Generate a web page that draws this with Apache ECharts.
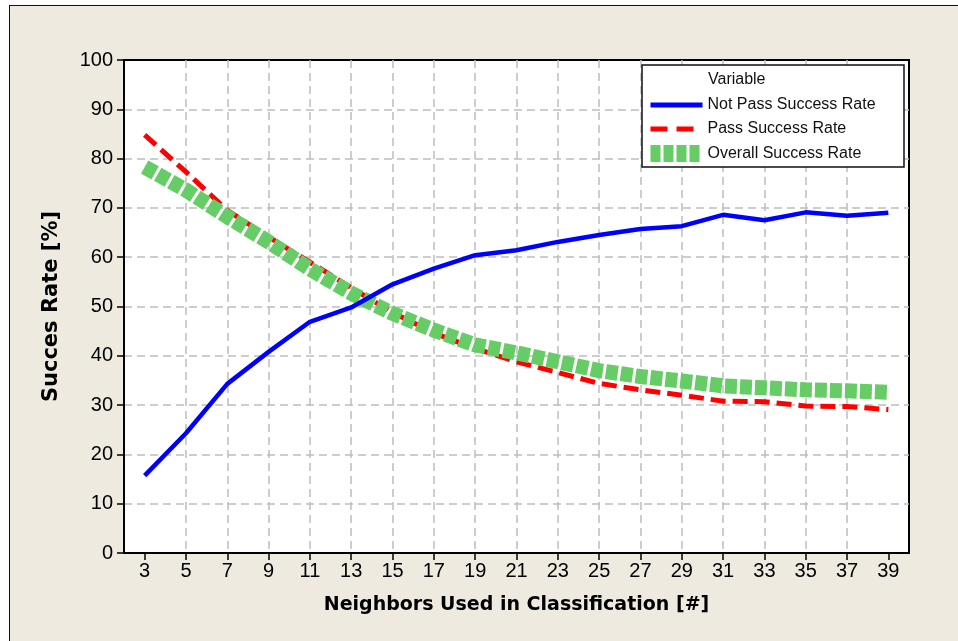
<!DOCTYPE html>
<html>
<head>
<meta charset="utf-8">
<script src="https://cdn.jsdelivr.net/npm/echarts@6/dist/echarts.min.js"></script>
<style>
html,body{margin:0;padding:0;width:958px;height:641px;overflow:hidden;background:#ffffff;}
#frame{position:absolute;left:9px;top:5px;width:1000px;height:700px;background:#EEEAE0;border-left:1.5px solid #111;border-top:1.5px solid #111;box-sizing:border-box;}
#chart{position:absolute;left:0;top:0;width:958px;height:641px;}
</style>
</head>
<body>
<div id="frame"></div>
<div id="chart"></div>
<script>
// Data
const neighbors = [3,5,7,9,11,13,15,17,19,21,23,25,27,29,31,33,35,37,39];
const notPassRate = [15.7,24.3,34.3,40.8,46.9,49.8,54.5,57.7,60.4,61.4,63.1,64.5,65.7,66.3,68.6,67.5,69.1,68.4,69.0];
const passRate = [84.8,77.3,69.5,64.1,59.0,53.8,48.8,44.6,41.5,38.8,36.6,34.4,33.1,32.0,30.8,30.7,29.8,29.7,29.1];
const overallRate = [78.3,73.6,68.2,63.1,57.6,52.7,48.6,45.2,42.2,40.6,38.8,37.0,35.8,34.9,33.9,33.5,33.1,32.9,32.6];
const xTickLabels = [3,5,7,9,11,13,15,17,19,21,23,25,27,29,31,33,35,37,39];
const yTickLabels = [0,10,20,30,40,50,60,70,80,90,100];
const seriesNames = ['Not Pass Success Rate','Pass Success Rate','Overall Success Rate'];
const legendTitle = 'Variable';
const xTitle = 'Neighbors Used in Classification [#]';
const yTitle = 'Succes Rate [%]';

const pair = arr => neighbors.map((x,i)=>[x, arr[i]]);
const chart = echarts.init(document.getElementById('chart'), null, {renderer:'canvas'});
const gridLine = {show:true, showMinLine:false, showMaxLine:false, lineStyle:{color:'#BDBDBD', width:1.5, type:[8,5]}};
const tickFont = {color:'#000', fontSize:20, fontFamily:'Liberation Sans, Arial, sans-serif'};

chart.setOption({
  backgroundColor:'transparent',
  animation:false,
  grid:{left:124, top:60, right:49, bottom:88, show:true, backgroundColor:'#ffffff', borderColor:'#000', borderWidth:2},
  xAxis:{
    type:'value', min:2, max:40, interval:1,
    name:xTitle, nameLocation:'middle', nameGap:43,
    nameTextStyle:{color:'#000', fontSize:19, fontWeight:'bold', fontFamily:'DejaVu Sans, sans-serif'},
    axisLine:{show:true, lineStyle:{color:'#000', width:2}},
    axisTick:{show:true, customValues:xTickLabels, length:7, lineStyle:{color:'#000', width:1.5}},
    axisLabel:Object.assign({customValues:xTickLabels, margin:8}, tickFont),
    splitLine:gridLine
  },
  yAxis:{
    type:'value', min:0, max:100, interval:5,
    name:yTitle, nameLocation:'middle', nameGap:62, nameRotate:90,
    nameTextStyle:{color:'#000', fontSize:21, fontWeight:'bold', fontFamily:'DejaVu Sans, sans-serif'},
    axisLine:{show:true, lineStyle:{color:'#000', width:2}},
    axisTick:{show:true, customValues:yTickLabels, length:7, lineStyle:{color:'#000', width:1.5}},
    axisLabel:Object.assign({customValues:yTickLabels, margin:11}, tickFont),
    splitLine:gridLine
  },
  legend:{
    orient:'vertical', left:642, top:97, padding:0, z:110,
    itemWidth:52, itemHeight:18, itemGap:8,
    itemStyle:{opacity:0},
    data:[
      {name:seriesNames[0], lineStyle:{width:5, color:'#0000FF', type:'solid'}},
      {name:seriesNames[1], lineStyle:{width:5, color:'#FF0000', type:[17,9], cap:'butt'}},
      {name:seriesNames[2], lineStyle:{width:17, color:'#66CC66', type:[10,3], cap:'butt'}}
    ],
    textStyle:{color:'#111', fontSize:16, fontFamily:'Liberation Sans, Arial, sans-serif'}
  },
  graphic:[
    {type:'rect', z:100, shape:{x:642, y:65, width:262, height:102}, style:{fill:'#ffffff', stroke:'#111', lineWidth:1.5}},
    {type:'text', z:105, x:708, y:80, style:{text:legendTitle, fill:'#111', fontSize:16, fontFamily:'Liberation Sans, Arial, sans-serif', verticalAlign:'middle'}}
  ],
  series:[
    {name:seriesNames[0], type:'line', data:pair(notPassRate), symbol:'none', z:4,
     lineStyle:{color:'#0000FF', width:4.5}, itemStyle:{color:'#0000FF'}},
    {name:seriesNames[1], type:'line', data:pair(passRate), symbol:'none', z:2,
     lineStyle:{color:'#FF0000', width:5, type:[15,7], cap:'butt'}, itemStyle:{color:'#FF0000'}},
    {name:seriesNames[2], type:'line', data:pair(overallRate), symbol:'none', z:3,
     lineStyle:{color:'#66CC66', width:15, type:[12,3], cap:'butt'}, itemStyle:{color:'#66CC66'}}
  ]
});
</script>
</body>
</html>
